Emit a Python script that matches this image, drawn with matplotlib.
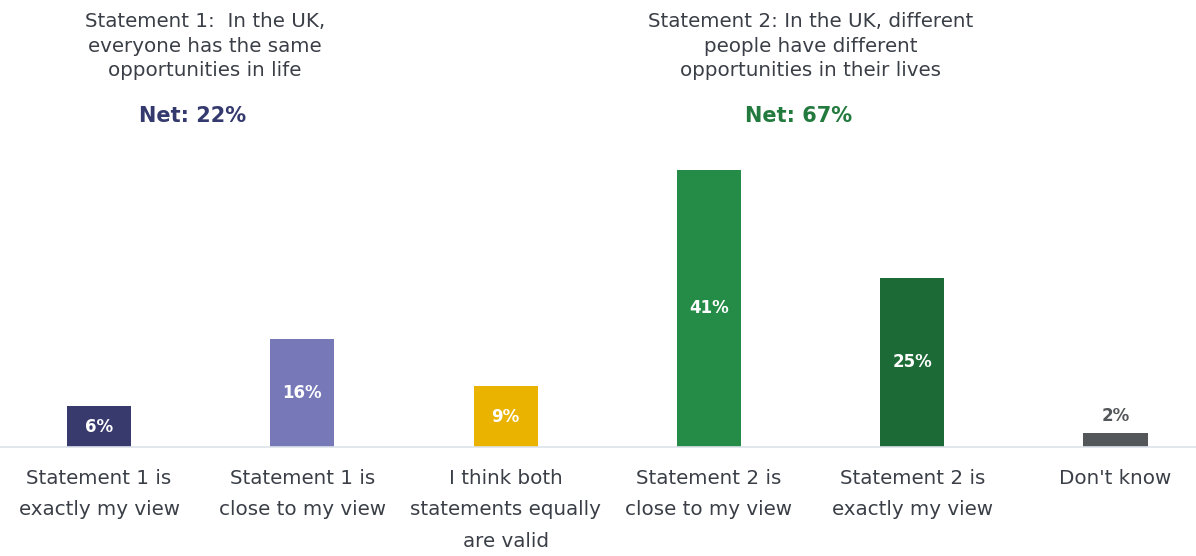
import matplotlib.pyplot as plt

categories = [
    "Statement 1 is\nexactly my view",
    "Statement 1 is\nclose to my view",
    "I think both\nstatements equally\nare valid",
    "Statement 2 is\nclose to my view",
    "Statement 2 is\nexactly my view",
    "Don't know",
]
values = [6, 16, 9, 41, 25, 2]
colors = ["#383a6e", "#7678b8", "#eab300", "#248c46", "#1c6a35", "#54575a"]

statement1 = "Statement 1:  In the UK,\neveryone has the same\nopportunities in life"
statement2 = "Statement 2: In the UK, different\npeople have different\nopportunities in their lives"
net1 = 22
net2 = 67

plt.rcParams["font.family"] = ["DejaVu Sans"]

fig = plt.figure(figsize=(11.96, 5.56), dpi=100)
ax = fig.add_axes([0, 109 / 556, 1, 447 / 556])

x = range(len(values))
ax.bar(x, values, width=0.315, color=colors)

ax.set_xlim(-0.487, 5.396)
ax.set_ylim(0, 66.1)

for s in ["top", "right", "left"]:
    ax.spines[s].set_visible(False)
ax.spines["bottom"].set_color("#dde2ea")
ax.spines["bottom"].set_linewidth(1.2)
ax.set_yticks([])
ax.set_xticks(list(x))
ax.set_xticklabels(categories, fontsize=14.3, color="#3a3f47", linespacing=1.86, va="top")
ax.tick_params(axis="x", length=0, pad=15.5)

# value labels: inside for tall bars, above for the tiny one
for i, v in enumerate(values):
    if v >= 5:
        ax.text(i, v / 2, f"{v}%", ha="center", va="center",
                color="white", fontsize=12, fontweight="bold")
    else:
        ax.text(i, v + 1.2, f"{v}%", ha="center", va="bottom",
                color="#54575a", fontsize=12, fontweight="bold")

# statement headers above each group
trans = ax.get_xaxis_transform()
head_y = (447 - 12) / 447
ax.text(0.52, head_y, statement1, transform=trans, ha="center", va="top",
        fontsize=14.3, color="#3a3f47", linespacing=1.38)
ax.text(3.5, head_y, statement2, transform=trans, ha="center", va="top",
        fontsize=14.3, color="#3a3f47", linespacing=1.38)
ax.text(0.46, 0.74, f"Net: {net1}%", transform=trans, ha="center", va="center",
        fontsize=15, color="#353a6e", fontweight="bold")
ax.text(3.44, 0.74, f"Net: {net2}%", transform=trans, ha="center", va="center",
        fontsize=15, color="#237a3e", fontweight="bold")

fig.savefig("out.png", dpi=100)
